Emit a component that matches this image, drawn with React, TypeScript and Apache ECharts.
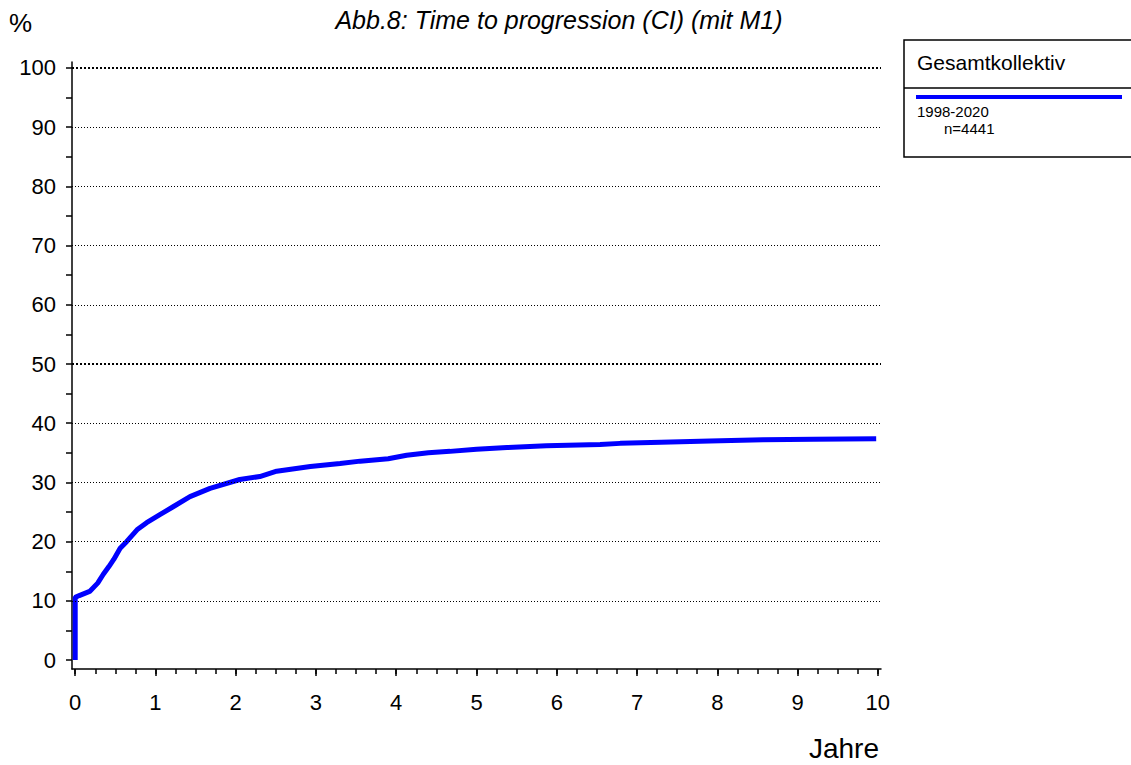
import React, { useEffect, useRef } from "react";
import * as echarts from "echarts";

const titleText = "Abb.8: Time to progression (CI) (mit M1)";
const legendTitle = "Gesamtkollektiv";
const seriesName = "1998-2020";
const seriesN = "n=4441";

const years = [0, 0, 0.05, 0.18, 0.28, 0.35, 0.42, 0.48, 0.56, 0.64, 0.77, 0.89, 1.06, 1.22, 1.43, 1.68, 2.05, 2.3, 2.51, 2.93, 3.3, 3.55, 3.9, 4.13, 4.4, 4.67, 5.0, 5.38, 5.87, 6.54, 6.79, 7.3, 7.91, 8.57, 9.2, 9.98];
const percent = [0, 10.6, 10.9, 11.6, 13.0, 14.5, 15.8, 17.0, 18.9, 20.0, 22.0, 23.2, 24.6, 25.9, 27.6, 29.0, 30.5, 31.0, 31.9, 32.7, 33.2, 33.6, 34.0, 34.6, 35.0, 35.25, 35.6, 35.9, 36.2, 36.4, 36.6, 36.8, 37.0, 37.2, 37.3, 37.4];

const xLabels = [0, 1, 2, 3, 4, 5, 6, 7, 8, 9, 10];
const xMinorTicks = [0, 0.25, 0.5, 0.75, 1, 1.25, 1.5, 1.75, 2, 2.25, 2.5, 2.75, 3, 3.25, 3.5, 3.75, 4, 4.25, 4.5, 4.75, 5, 5.25, 5.5, 5.75, 6, 6.25, 6.5, 6.75, 7, 7.25, 7.5, 7.75, 8, 8.25, 8.5, 8.75, 9, 9.25, 9.5, 9.75, 10];
const yLabels = [0, 10, 20, 30, 40, 50, 60, 70, 80, 90, 100];
const yTicks = [0, 5, 10, 15, 20, 25, 30, 35, 40, 45, 50, 55, 60, 65, 70, 75, 80, 85, 90, 95, 100];
const gridValues = [10, 20, 30, 40, 50, 60, 70, 80, 90, 100];
const boldGrid = [50, 100];

const FONT = "Liberation Sans, Arial, sans-serif";

export default function App() {
  const ref = useRef<HTMLDivElement>(null);
  useEffect(() => {
    if (!ref.current) return;
    const chart = echarts.init(ref.current, null, { renderer: "svg" });
    const data = years.map((x, i) => [x, percent[i]]);
    chart.setOption({
      animation: false,
      backgroundColor: "#ffffff",
      textStyle: { fontFamily: FONT },
      grid: { left: 72, right: 250, top: 62, bottom: 96, containLabel: false },
      xAxis: [
        {
          type: "value",
          min: -0.04,
          max: 10.04,
          position: "bottom",
          axisLine: { show: true, onZero: false, lineStyle: { color: "#000", width: 1.5 } },
          axisTick: { show: true, length: 7, customValues: xLabels, lineStyle: { color: "#000", width: 1.5 } },
          axisLabel: { show: true, customValues: xLabels, margin: 22, color: "#000", fontSize: 22, fontFamily: FONT },
          splitLine: { show: false },
        },
        {
          type: "value",
          min: -0.04,
          max: 10.04,
          position: "bottom",
          axisLine: { show: false, onZero: false },
          axisTick: { show: true, length: 5, customValues: xMinorTicks, lineStyle: { color: "#000", width: 1.5 } },
          axisLabel: { show: false },
          splitLine: { show: false },
        },
      ],
      yAxis: {
        type: "value",
        min: -1.5,
        max: 101,
        axisLine: { show: true, onZero: false, lineStyle: { color: "#000", width: 1.5 } },
        axisTick: { show: true, length: 6, customValues: yTicks, lineStyle: { color: "#000", width: 1.5 } },
        axisLabel: { show: true, customValues: yLabels, margin: 16, color: "#000", fontSize: 22, fontFamily: FONT },
        splitLine: { show: false },
      },
      series: [
        {
          type: "line",
          name: seriesName,
          data,
          xAxisIndex: 0,
          symbol: "none",
          lineStyle: { color: "#0000ff", width: 5 },
          markLine: {
            silent: true,
            symbol: "none",
            label: { show: false },
            data: gridValues.map((v) => ({
              yAxis: v,
              lineStyle: {
                color: "#000",
                type: boldGrid.includes(v) ? [2, 2] : [1, 2],
                width: boldGrid.includes(v) ? 2 : 1,
              },
            })),
          },
        },
      ],
      graphic: [
        {
          type: "text",
          x: 9,
          y: 23,
          style: { text: "%", fontSize: 26, fill: "#000", fontFamily: FONT, verticalAlign: "middle" },
        },
        {
          type: "text",
          x: 559,
          y: 20,
          style: {
            text: titleText,
            fontSize: 25,
            fontStyle: "italic",
            fill: "#000",
            fontFamily: FONT,
            align: "center",
            verticalAlign: "middle",
          },
        },
        {
          type: "text",
          x: 879,
          y: 748,
          style: { text: "Jahre", fontSize: 28, fill: "#000", fontFamily: FONT, align: "right", verticalAlign: "middle" },
        },
        {
          type: "rect",
          shape: { x: 904, y: 40, width: 240, height: 117 },
          style: { fill: "#fff", stroke: "#000", lineWidth: 1.5 },
        },
        {
          type: "line",
          shape: { x1: 904, y1: 88, x2: 1131, y2: 88 },
          style: { stroke: "#000", lineWidth: 1.5 },
        },
        {
          type: "line",
          shape: { x1: 916, y1: 97, x2: 1122, y2: 97 },
          style: { stroke: "#0000ff", lineWidth: 4 },
        },
        {
          type: "text",
          x: 917,
          y: 62,
          style: { text: legendTitle, fontSize: 21, fill: "#000", fontFamily: FONT, verticalAlign: "middle" },
        },
        {
          type: "text",
          x: 917,
          y: 111,
          style: { text: seriesName, fontSize: 15, fill: "#000", fontFamily: FONT, verticalAlign: "middle" },
        },
        {
          type: "text",
          x: 944,
          y: 128,
          style: { text: seriesN, fontSize: 15, fill: "#000", fontFamily: FONT, verticalAlign: "middle" },
        },
      ],
    });
    return () => chart.dispose();
  }, []);
  return <div ref={ref} style={{ width: 1131, height: 765, position: "absolute", left: 0, top: 0 }} />;
}
